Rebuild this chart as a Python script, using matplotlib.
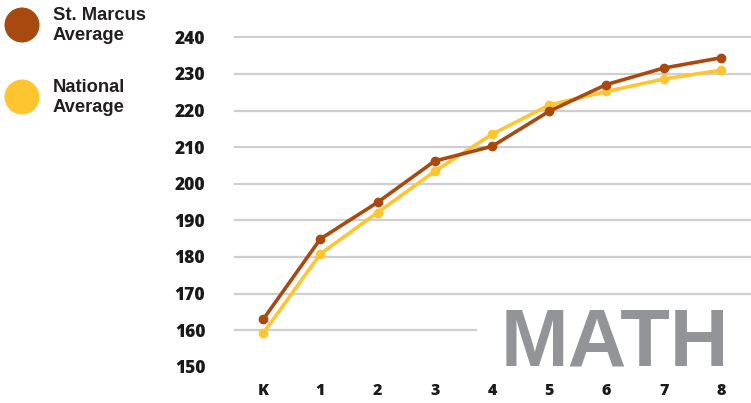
import matplotlib
matplotlib.use("Agg")
import matplotlib.pyplot as plt
from matplotlib.patches import Rectangle, Ellipse

grades = ["K", "1", "2", "3", "4", "5", "6", "7", "8"]
st_marcus = [162.9, 184.9, 194.9, 206.2, 210.2, 219.8, 227.1, 231.6, 234.4]
national = [159.1, 180.8, 192.1, 203.4, 213.5, 221.5, 225.2, 228.6, 231.0]
y_ticks = [150, 160, 170, 180, 190, 200, 210, 220, 230, 240]
series_names = ["St. Marcus\nAverage", "National\nAverage"]

BROWN = "#A84A10"
YELLOW = "#FFC531"
GRID = "#CFCFCF"

W, H = 751, 403
fig = plt.figure(figsize=(W / 100, H / 100), dpi=100)
x0, x1 = 234.5, 749.5
ytop, ybot = 37.3, 366.7
ax = fig.add_axes([x0 / W, 1 - ybot / H, (x1 - x0) / W, (ybot - ytop) / H])
ax.set_xlim(-0.5, 8.5)
ax.set_ylim(150, 240)
for s in ax.spines.values():
    s.set_visible(False)

xs = list(range(len(grades)))
for yv in y_ticks[1:]:
    ax.axhline(yv, color=GRID, lw=1.6, zorder=1, clip_on=False)

ax.plot(xs, national, color=YELLOW, lw=2.6, marker="o", ms=6, zorder=3, clip_on=False)
ax.plot(xs, st_marcus, color=BROWN, lw=2.6, marker="o", ms=6, zorder=4, clip_on=False)

ax.set_yticks(y_ticks)
ax.set_yticklabels([str(v) for v in y_ticks], fontfamily="Open Sans",
                   fontweight="heavy", fontsize=12.5, color="#1a1a1a")
ax.set_xticks(xs)
ax.set_xticklabels(grades, fontfamily="Open Sans", fontweight="heavy",
                   fontsize=11.5, color="#1a1a1a")
ax.tick_params(axis="y", length=0, pad=21)
ax.tick_params(axis="x", length=0, pad=12)

# white block behind MATH (above the x tick labels)
fig.patches.append(Rectangle((477 / W, 1 - 372 / H), (W - 477) / W, (372 - 300) / H,
                             transform=fig.transFigure, facecolor="white",
                             edgecolor="none", zorder=5))
fig.text(501 / W, 1 - 366 / H, "MATH", fontfamily="Liberation Sans",
         fontweight="bold", fontsize=58.5, color="#929497", ha="left",
         va="baseline", zorder=6)

# legend
legend_y = [25, 97]
r = 17.5
for (cy, name, col) in zip(legend_y, series_names, [BROWN, YELLOW]):
    fig.patches.append(Ellipse((22 / W, 1 - cy / H), 2 * r / W, 2 * r / H,
                               transform=fig.transFigure, facecolor=col,
                               edgecolor="none"))
    fig.text(53 / W, 1 - (cy + 0.5) / H, name, fontfamily="Liberation Sans",
             fontweight="bold", fontsize=13.2, color="#231F20", ha="left",
             va="center", linespacing=1.3)

fig.savefig("out.png", dpi=100)
